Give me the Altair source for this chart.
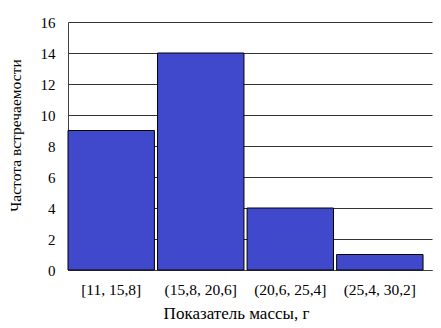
import altair as alt
import pandas as pd

categories = ["[11, 15,8]", "(15,8, 20,6]", "(20,6, 25,4]", "(25,4, 30,2]"]
counts = [9, 14, 4, 1]
y_ticks = [0, 2, 4, 6, 8, 10, 12, 14, 16]

df = pd.DataFrame({"cat": categories, "count": counts})

font = "Liberation Serif"

chart = alt.Chart(df).mark_bar(
    color="#4048CC", stroke="#000000", strokeWidth=1
).encode(
    x=alt.X(
        "cat:N",
        sort=categories,
        scale=alt.Scale(paddingInner=0.035, paddingOuter=0.05, align=0),
        axis=alt.Axis(
            title="Показатель массы, г",
            labelAngle=0,
            labelFont=font,
            labelFontSize=15.5,
            labelColor="#000000",
            labelPadding=12,
            ticks=False,
            domainColor="#404040",
            titleFont=font,
            titleFontSize=17,
            titleFontWeight="normal",
            titleColor="#000000",
            titlePadding=8,
            titleX=168,
        ),
    ),
    y=alt.Y(
        "count:Q",
        scale=alt.Scale(domain=[0, 16], nice=False),
        axis=alt.Axis(
            title="Частота встречаемости",
            values=y_ticks,
            labelFont=font,
            labelFontSize=15,
            labelColor="#000000",
            labelPadding=13,
            ticks=False,
            grid=True,
            gridColor="#333333",
            gridWidth=1.2,
            domainColor="#404040",
            titleFont=font,
            titleFontSize=15.5,
            titleFontWeight="normal",
            titleColor="#000000",
            titleX=-53,
            titleY=113,
            titleBaseline="middle",
        ),
    ),
).properties(
    width=364,
    height=248,
    autosize=alt.AutoSizeParams(type="none"),
    padding={"left": 68, "top": 22, "right": 9, "bottom": 58},
).configure_view(stroke=None)

chart.save("out.html", embed_options={"renderer": "svg", "actions": False})
